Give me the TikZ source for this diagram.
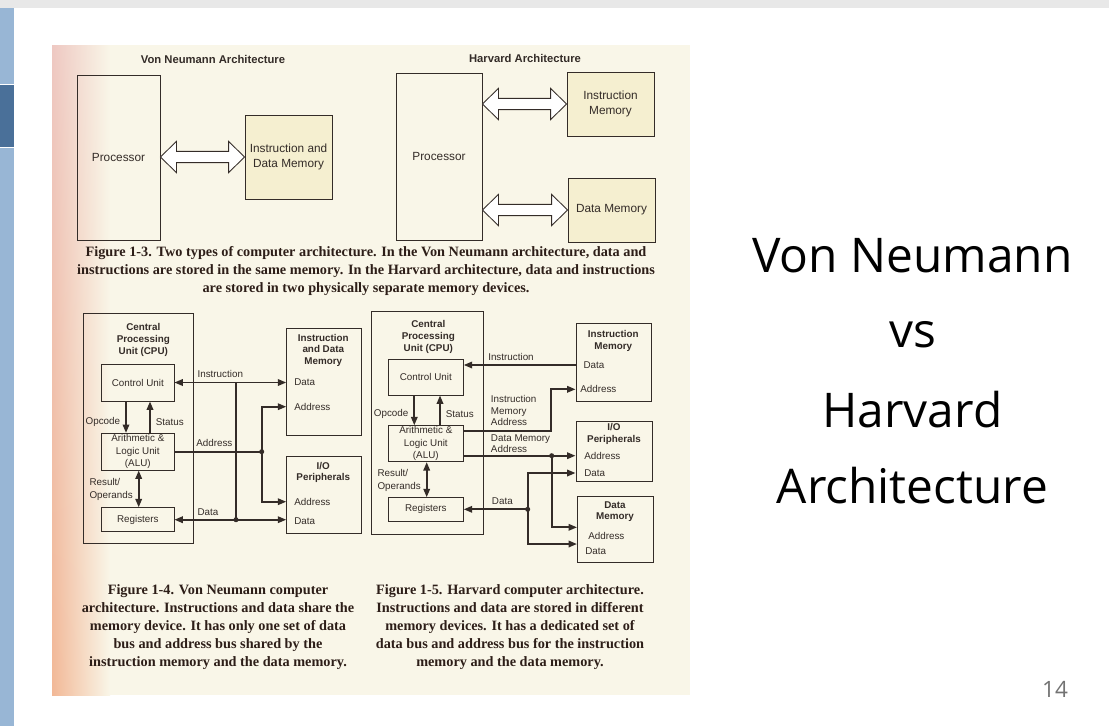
\documentclass[tikz,border=0pt]{standalone}
\usepackage{fontspec}
\setmainfont{Liberation Serif}
\newfontfamily\diagfont{Liberation Sans}
\newfontfamily\slidefont{Open Sans}
\usetikzlibrary{arrows.meta,calc,shadings}
\definecolor{paper}{RGB}{249,246,232}
\definecolor{memfill}{RGB}{245,239,208}
\definecolor{ink}{RGB}{52,44,40}
\definecolor{capink}{RGB}{45,30,24}
\definecolor{topgray}{RGB}{232,232,232}
\definecolor{barblue}{RGB}{152,182,213}
\definecolor{bardark}{RGB}{74,112,153}
\definecolor{edgepink}{RGB}{238,200,194}
\definecolor{edgeorange}{RGB}{242,184,150}
\newcommand{\pxu}{0.025cm}

\begin{document}
\begin{tikzpicture}[x=0.025cm, y=-0.025cm,
    every node/.style={text=ink},
    >={Triangle[length=6pt,width=4.6pt]},
    head/.style={font=\diagfont\bfseries\fontsize{8}{10}\selectfont, inner sep=0pt},
    big/.style={font=\diagfont\fontsize{8.4}{10.6}\selectfont, align=center},
    txt/.style={font=\diagfont\fontsize{7}{9}\selectfont, align=center},
    ttl/.style={font=\diagfont\bfseries\fontsize{7}{8.4}\selectfont, align=center, inner sep=0pt},
    port/.style={font=\diagfont\fontsize{7}{9}\selectfont, anchor=west, inner sep=0pt},
    note/.style={font=\diagfont\fontsize{7}{8.2}\selectfont, align=left, anchor=west, inner sep=0pt},
    tag/.style={font=\diagfont\fontsize{7}{9}\selectfont, align=left, inner sep=0pt, inner xsep=4pt},
    blk/.style 2 args={draw=ink, line width=0.6pt, minimum width=#1*\pxu, minimum height=#2*\pxu, inner sep=0pt},
    bus/.style={draw=ink, line width=1.3pt},
    dot/.style={circle, fill=ink, inner sep=0pt, minimum size=3.6pt},
    hollow/.style={draw=ink, line width=0.6pt, fill=white,
        to path={let \p1=(\tikztostart), \p2=(\tikztotarget) in
        (\x1,\y1) -- (\x1+0.4cm,\y1+0.39cm) -- (\x1+0.4cm,\y1+0.14cm) -- (\x2-0.4cm,\y1+0.14cm)
        -- (\x2-0.4cm,\y1+0.39cm) -- (\x2,\y1) -- (\x2-0.4cm,\y1-0.39cm) -- (\x2-0.4cm,\y1-0.14cm)
        -- (\x1+0.4cm,\y1-0.14cm) -- (\x1+0.4cm,\y1-0.39cm) -- cycle}},
    figcap/.style={font=\bfseries\fontsize{10.15}{12.5}\selectfont, text=capink, align=center},
    slide/.style={font=\slidefont\fontsize{34}{40}\selectfont, text=black, anchor=base}]
    \useasboundingbox (0,0) rectangle (1109,726);
    % slide
    \fill[white] (0,0) rectangle (1109,726);
    \fill[topgray] (0,0) rectangle (1109,8);
    \fill[barblue] (0,8) rectangle (14,726);
    \fill[bardark] (0,84) rectangle (14,147);
    \draw[white, line width=0.6pt] (0,84) -- (14,84) (0,147) -- (14,147);
    % book page
    \fill[paper] (52,45) rectangle (690,695);
    \shade[upper left=edgepink, lower left=edgeorange, upper right=paper, lower right=paper] (52,45) rectangle (110,695);

    % Figure 1-3, Von Neumann
    \node[head] (vntitle) at (213,59) {Von Neumann Architecture};
    \node[blk={83}{165}, big] (vnproc) at (118.5,157.5) {Processor};
    \node[blk={87}{84}, big, fill=memfill] (vnmem) at (288.5,157) {Instruction and\\Data Memory};
    \draw[hollow] (vnproc.east |- vnmem.west) to (vnmem.west);
    % Figure 1-3, Harvard
    \node[head] (hvtitle) at (525,58) {Harvard Architecture};
    \node[blk={86}{167}, big] (hvproc) at (439,156.5) {Processor};
    \node[blk={87}{64}, big, fill=memfill] (hvimem) at (610.5,104) {Instruction\\Memory};
    \node[blk={87}{64}, big, fill=memfill] (hvdmem) at (611.5,210) {Data Memory};
    \draw[hollow] (hvproc.east |- hvimem.west) to (hvimem.west);
    \draw[hollow] (hvproc.east |- hvdmem.west) to (hvdmem.west);
    \node[figcap] (cap13) at (366,271) {Figure 1-3. Two types of computer architecture. In the Von Neumann architecture, data and\\instructions are stored in the same memory. In the Harvard architecture, data and instructions\\are stored in two physically separate memory devices.};

    % Figure 1-4
    \node[blk={110.3}{230}] (vncpu) at (138.2,428) {};
    \node[ttl] (vncpulbl) at (143.3,340) {Central\\Processing\\Unit (CPU)};
    \node[blk={72.3}{37}, txt] (vncu) at (137.8,382.5) {Control Unit};
    \node[blk={72.3}{36.7}, txt] (vnalu) at (137.8,451.7) {Arithmetic \&\\Logic Unit\\(ALU)};
    \node[blk={72.3}{24}, txt] (vnreg) at (137.8,519.7) {Registers};
    \node[tag, anchor=east] (vnop) at (126,421.7) {Opcode};
    \node[tag, anchor=west] (vnst) at (150,421.7) {Status};
    \node[tag, anchor=east] (vnres) at (138.7,489.3) {Result/\\Operands};
    \draw[bus,->] (vncu.south -| vnop.east) -- (vnalu.north -| vnop.east);
    \draw[bus,->] (vnalu.north -| vnst.west) -- (vncu.south -| vnst.west);
    \draw[bus,<->] (vnalu.south -| vnres.east) -- (vnreg.north -| vnres.east);
    \node[blk={75}{106.7}] (vnmem2) at (324.2,381.7) {};
    \node[ttl] (vnmemlbl) at (323.3,350.4) {Instruction\\and Data\\Memory};
    \node[port] (vnmdata) at (294,382.3) {Data};
    \node[port] (vnmaddr) at (294,406.7) {Address};
    \node[blk={75}{76.6}] (vnio) at (324.2,495) {};
    \node[ttl] (vniolbl) at (323.3,472.5) {I/O\\Peripherals};
    \node[port] (vnioaddr) at (294,501.7) {Address};
    \node[port] (vniodata) at (294,520.7) {Data};
    \node[note] (vninstr) at (197.3,374) {Instruction};
    \node[note] (vnaddr) at (196,443.3) {Address};
    \node[note] (vndata) at (197.3,511.7) {Data};
    \coordinate (vnbus) at (236,382.5);
    \coordinate (vnjd) at (236,519.7);
    \coordinate (vnja) at (261.7,451.7);
    \draw[bus,<->] (vncu.east) -- (vncu.east -| vnmem2.west);
    \draw[bus,<->] (vnreg.east) -- (vnreg.east -| vnio.west);
    \draw[bus] (vnbus) -- (vnjd);
    \draw[bus] (vnalu.east) -- (vnja);
    \draw[bus,->] (vnja) |- (vnmem2.west |- vnmaddr);
    \draw[bus,->] (vnja) |- (vnio.west |- vnioaddr);
    \node[dot] (vnjddot) at (vnjd) {};
    \node[dot] (vnjadot) at (vnja) {};
    \node[figcap, font=\bfseries\fontsize{10.15}{12.7}\selectfont] (cap14) at (218,627) {Figure 1-4. Von Neumann computer\\architecture. Instructions and data share the\\memory device. It has only one set of data\\bus and address bus shared by the\\instruction memory and the data memory.};

    % Figure 1-5
    \node[blk={111.6}{223.3}] (hcpu) at (427.5,422.7) {};
    \node[ttl] (hcpulbl) at (428.3,336.8) {Central\\Processing\\Unit (CPU)};
    \node[blk={75}{36}, txt] (hcu) at (425.8,377) {Control Unit};
    \node[blk={75}{36}, txt] (halu) at (425.8,443.7) {Arithmetic \&\\Logic Unit\\(ALU)};
    \node[blk={75}{23.3}, txt] (hreg) at (425.8,509.3) {Registers};
    \node[tag, anchor=east] (hop) at (414.3,414.3) {Opcode};
    \node[tag, anchor=west] (hst) at (440,414.3) {Status};
    \node[tag, anchor=east] (hres) at (426.7,480.5) {Result/\\Operands};
    \draw[bus,->] (hcu.south -| hop.east) -- (halu.north -| hop.east);
    \draw[bus,->] (halu.north -| hst.west) -- (hcu.south -| hst.west);
    \draw[bus,<->] (halu.south -| hres.east) -- (hreg.north -| hres.east);
    \node[blk={75.7}{78}] (himem) at (613.8,362) {};
    \node[ttl] (himemlbl) at (613.3,340.8) {Instruction\\Memory};
    \node[port] (himdata) at (583.3,365) {Data};
    \node[port] (himaddr) at (580,389.3) {Address};
    \node[blk={76.7}{60}] (hio) at (614.3,451.7) {};
    \node[ttl] (hiolbl) at (614,433.8) {I/O\\Peripherals};
    \node[port] (hioaddr) at (584,455.7) {Address};
    \node[port] (hiodata) at (584,473) {Data};
    \node[blk={76}{66}] (hdmem) at (615,529.7) {};
    \node[ttl] (hdmemlbl) at (615,511.7) {Data\\Memory};
    \node[port] (hdmaddr) at (588,536) {Address};
    \node[port] (hdmdata) at (585,551) {Data};
    \node[note] (hinstr) at (488,356.7) {Instruction};
    \node[note] (himalbl) at (490.7,410.5) {Instruction\\Memory\\Address};
    \node[note] (hdmalbl) at (490.7,443.5) {Data Memory\\Address};
    \node[note] (hdata) at (491.7,501) {Data};
    \coordinate (hia) at (550.7,430.7);
    \coordinate (hda) at (551.7,455.7);
    \coordinate (hdj) at (527.7,509.3);
    \coordinate (hdmain) at (577,527.3);
    \coordinate (hdmdin) at (577,544);
    \draw[bus,->] (himem.west |- himdata) -- (hcu.east |- himdata);
    \draw[bus,->] (halu.east |- hia) -- (hia) |- (himem.west |- himaddr);
    \draw[bus,->] (halu.east |- hda) -- (hio.west |- hda);
    \draw[bus,->] (hda) |- (hdmain);
    \draw[bus,->] (hdj) -- (hreg.east |- hdj);
    \draw[bus,->] (hdj) |- (hio.west |- hiodata);
    \draw[bus,->] (hdj) |- (hdmdin);
    \node[dot] (hdadot) at (hda) {};
    \node[dot] (hdjdot) at (hdj) {};
    \node[figcap, font=\bfseries\fontsize{10.15}{12.7}\selectfont] (cap15) at (510,627) {Figure 1-5. Harvard computer architecture.\\Instructions and data are stored in different\\memory devices. It has a dedicated set of\\data bus and address bus for the instruction\\memory and the data memory.};

    % slide title
    \node[slide] (vnword) at (912.5,272) {Von Neumann};
    \node[slide] (vsword) at (912.5,347) {vs};
    \node[slide] (hvword) at (912.5,427) {Harvard};
    \node[slide] (archword) at (912.5,503) {Architecture};
    \node[font=\slidefont\fontsize{16}{18}\selectfont, text=black!55, anchor=base] (pageno) at (1055,697) {14};
\end{tikzpicture}
\end{document}
